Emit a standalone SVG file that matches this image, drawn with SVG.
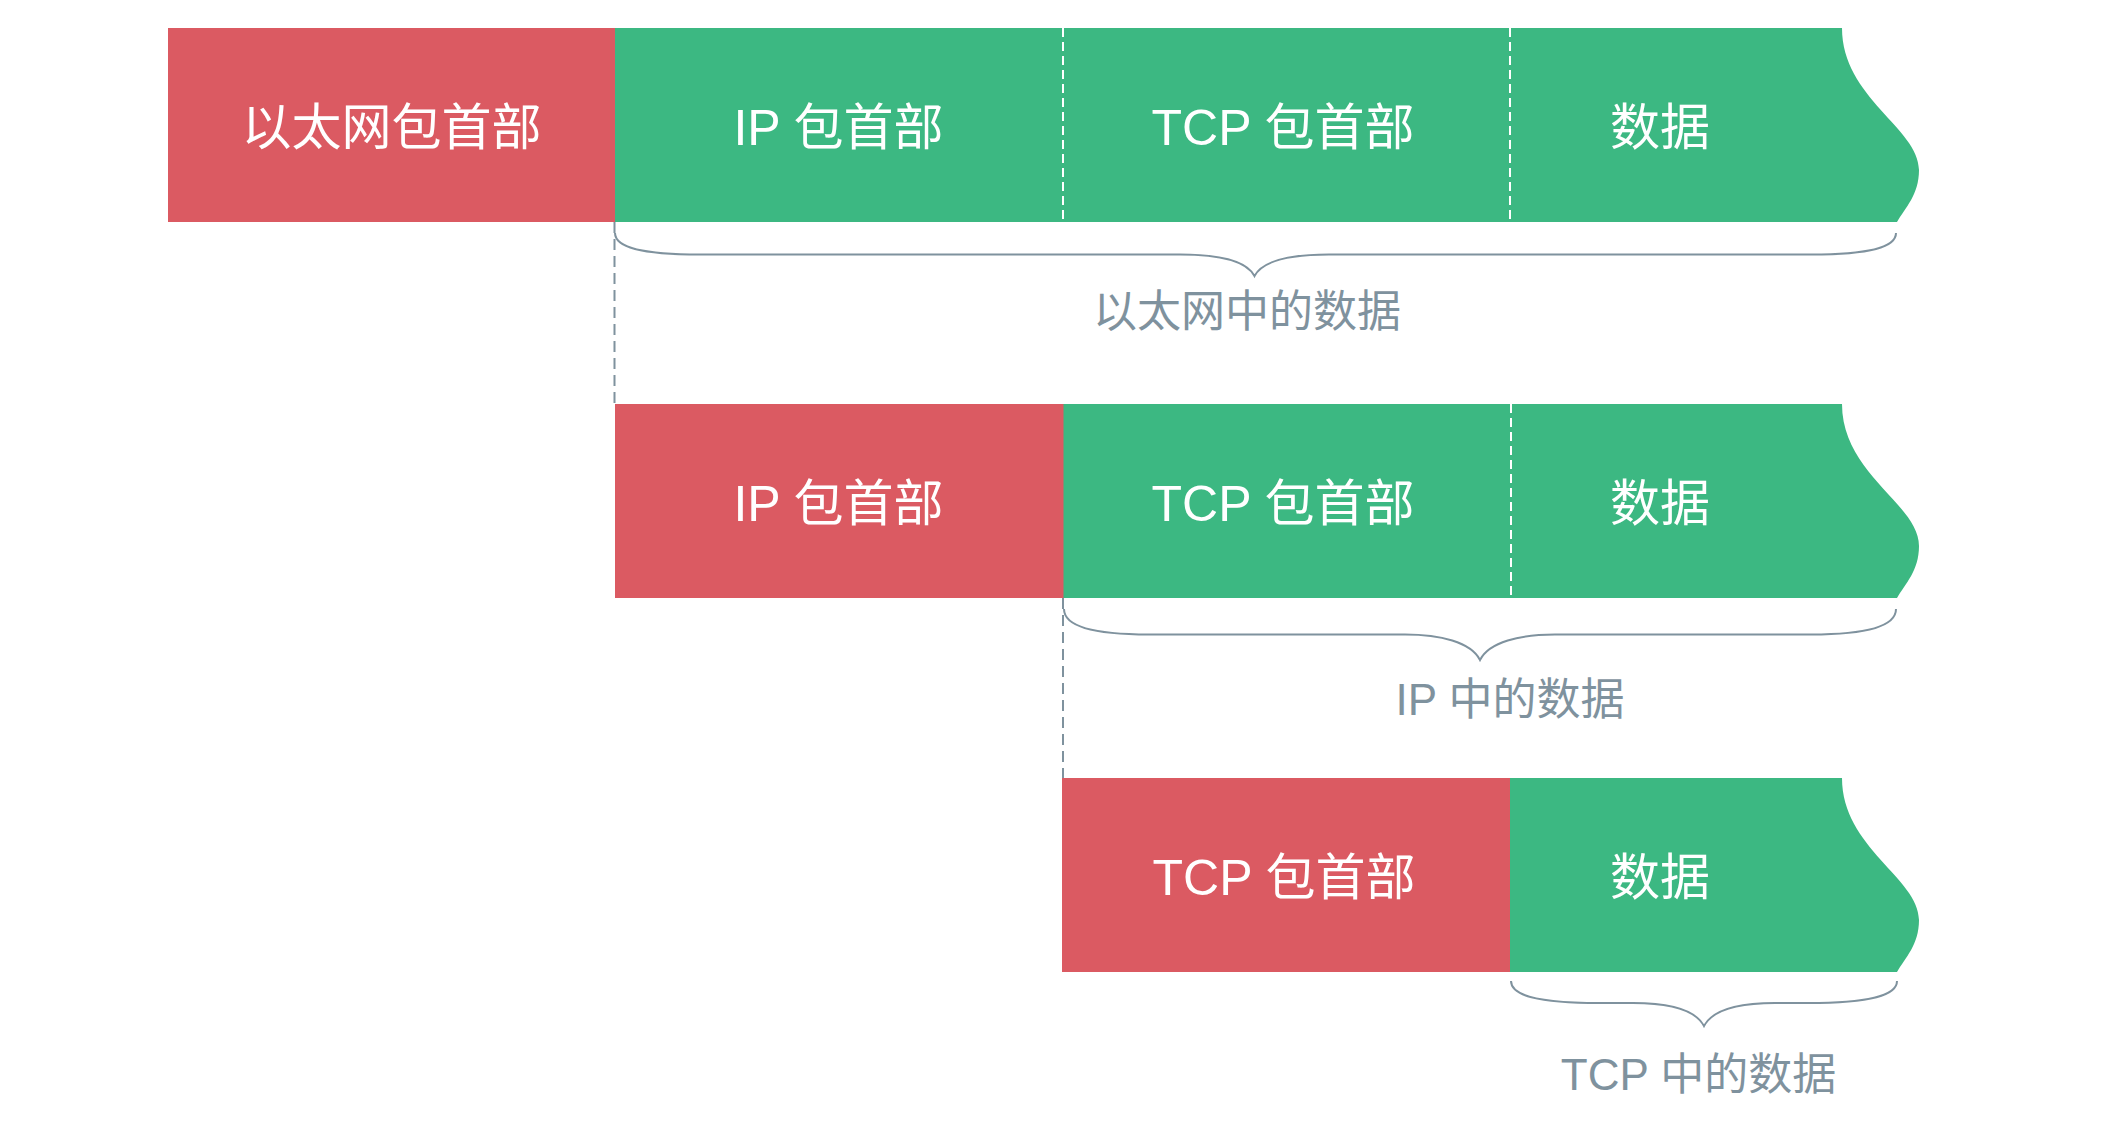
<svg xmlns="http://www.w3.org/2000/svg" width="2121" height="1123" viewBox="0 0 2121 1123">
<style>
.red{fill:#DB5A62}
.green{fill:#3CB882}
.wdash{stroke:#FFFFFF;stroke-width:2;stroke-dasharray:9 5;fill:none}
.gdash{stroke:#7F929E;stroke-width:2;stroke-dasharray:11 6;fill:none}
.brace{stroke:#7F929E;stroke-width:2;fill:none}
.wt{fill:#FFFFFF;font-family:"Liberation Sans","Noto Sans CJK SC",sans-serif;font-size:50px;text-anchor:middle}
.gt{fill:#7F929E;font-family:"Liberation Sans","Noto Sans CJK SC",sans-serif;font-size:44px;text-anchor:middle}
</style>
<rect width="2121" height="1123" fill="#FFFFFF"/>

<g id="row1">
  <g id="eth-header">
    <rect class="red" x="168" y="28" width="447" height="194"/>
    <text class="wt" x="391.5" y="145">以太网包首部</text>
  </g>
  <g id="eth-data">
    <path class="green" d="M615,28 L1842,28 C1842,98 1919,128 1919,170 C1919,195 1905,208 1897,222 L615,222 Z"/>
    <line class="wdash" x1="1063" y1="28" x2="1063" y2="222"/>
    <line class="wdash" x1="1510" y1="28" x2="1510" y2="222"/>
    <text class="wt" x="838.5" y="145">IP 包首部</text>
    <text class="wt" x="1283" y="145">TCP 包首部</text>
    <text class="wt" x="1660" y="145">数据</text>
  </g>
  <g id="eth-brace-label">
    <text class="gt" x="1247" y="327">以太网中的数据</text>
  </g>
</g>

<g id="row2">
  <g id="ip-header">
    <rect class="red" x="615" y="404" width="449" height="194"/>
    <text class="wt" x="838.5" y="521">IP 包首部</text>
  </g>
  <g id="ip-data">
    <path class="green" d="M1063.5,404 L1842,404 C1842,474 1919,504 1919,546 C1919,571 1905,584 1897,598 L1063.5,598 Z"/>
    <line class="wdash" x1="1511" y1="404" x2="1511" y2="598"/>
    <text class="wt" x="1283" y="521">TCP 包首部</text>
    <text class="wt" x="1660" y="521">数据</text>
  </g>
  <g id="ip-brace-label">
    <text class="gt" x="1510" y="715">IP 中的数据</text>
  </g>
</g>

<g id="row3">
  <g id="tcp-header">
    <rect class="red" x="1062" y="778" width="448.5" height="194"/>
    <text class="wt" x="1284" y="895">TCP 包首部</text>
  </g>
  <g id="tcp-data">
    <path class="green" d="M1510,778 L1842,778 C1842,848 1919,878 1919,920 C1919,945 1905,958 1897,972 L1510,972 Z"/>
    <text class="wt" x="1660" y="895">数据</text>
  </g>
  <g id="tcp-brace-label">
    <text class="gt" x="1698.5" y="1090">TCP 中的数据</text>
  </g>
</g>

<g id="connectors">
  <line class="gdash" x1="614.5" y1="222" x2="614.5" y2="404"/>
  <line class="gdash" x1="1063" y1="598" x2="1063" y2="778"/>
  <path class="brace" d="M615,233 C615,247 640,254.5 700,254.5 L1180,254.5 C1215,254.5 1246,260 1254.5,276 C1263,260 1294,254.5 1329,254.5 L1811,254.5 C1871,254.5 1896,247 1896,233"/>
  <path class="brace" d="M1064,609 C1064,625 1089,634.5 1149,634.5 L1405,634.5 C1440,634.5 1471,642 1480,660 C1489,642 1520,634.5 1555,634.5 L1811,634.5 C1871,634.5 1896,625 1896,609"/>
  <path class="brace" d="M1511,981 C1511,995 1536,1003 1600,1003 L1633,1003 C1668,1003 1695,1009 1704,1026 C1713,1009 1740,1003 1775,1003 L1808,1003 C1872,1003 1897,995 1897,981"/>
</g>
</svg>
